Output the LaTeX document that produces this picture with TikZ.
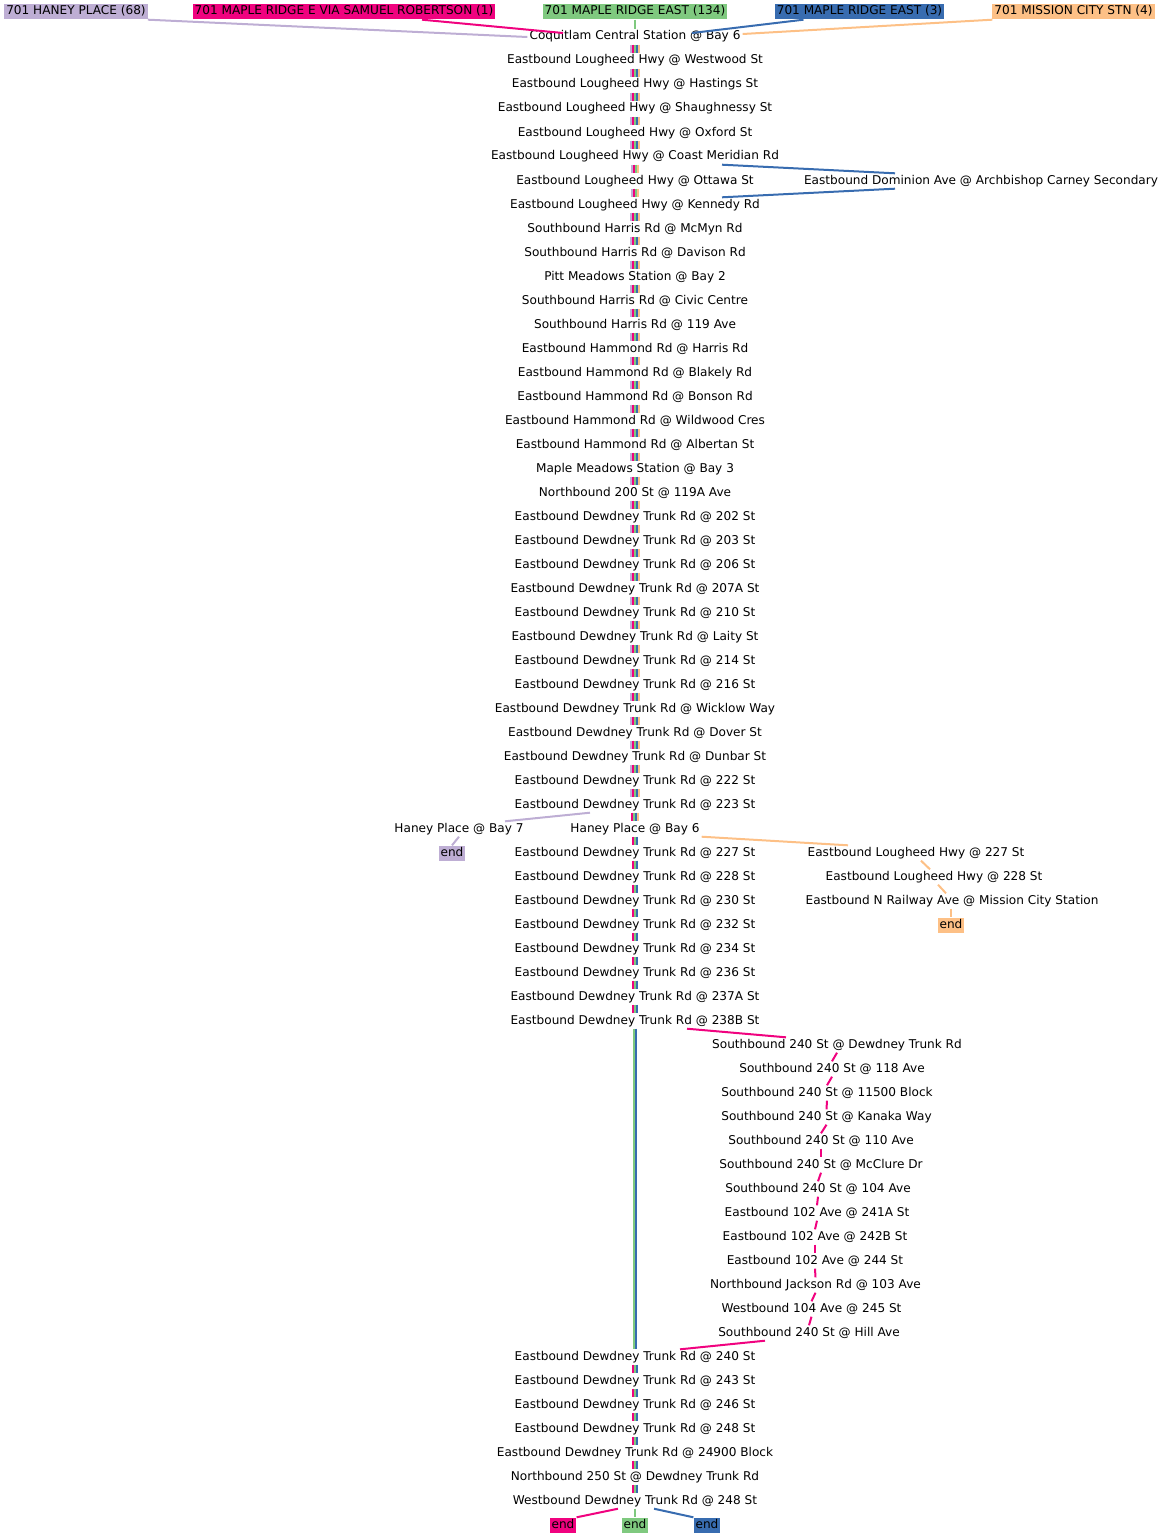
\documentclass[tikz,border=0pt]{standalone}
\usepackage{fontspec}
\setmainfont{DejaVu Sans}
\definecolor{cP}{HTML}{BEAED4}
\definecolor{cK}{HTML}{F0027F}
\definecolor{cG}{HTML}{7FC97F}
\definecolor{cB}{HTML}{386CB0}
\definecolor{cO}{HTML}{FDC086}
\newcommand\trunkseg[4]{%
  \foreach \c [count=\k] in {#4} {%
    \draw[line width=2pt,draw=\c] ([xshift={(\k-(#3+1)/2)*2pt}]m#1.south) -- ([xshift={(\k-(#3+1)/2)*2pt}]m#2.north);}%
}
\begin{document}
\begin{tikzpicture}[x=1pt,y=-1pt,
  lbl/.style={font=\fontsize{12.1}{14}\selectfont, inner xsep=2pt, inner ysep=1.5pt, text height=9pt, text depth=3pt},
  hdr/.style={lbl, fill=#1},
  endbox/.style={lbl, fill=#1},
  conn/.style={line width=2pt, draw=#1}]
\useasboundingbox (0,0) rectangle (1164,1536);

% headers
\node[hdr=cP] (hp) at (76,12) {701 HANEY PLACE (68)};
\node[hdr=cK] (hk) at (344,12) {701 MAPLE RIDGE E VIA SAMUEL ROBERTSON (1)};
\node[hdr=cG] (hg) at (635,12) {701 MAPLE RIDGE EAST (134)};
\node[hdr=cB] (hb) at (859.5,12) {701 MAPLE RIDGE EAST (3)};
\node[hdr=cO] (ho) at (1073.5,12) {701 MISSION CITY STN (4)};

% main trunk stops
\foreach \i/\t in {
1/Coquitlam Central Station @ Bay 6,
2/Eastbound Lougheed Hwy @ Westwood St,
3/Eastbound Lougheed Hwy @ Hastings St,
4/Eastbound Lougheed Hwy @ Shaughnessy St,
5/Eastbound Lougheed Hwy @ Oxford St,
6/Eastbound Lougheed Hwy @ Coast Meridian Rd,
7/Eastbound Lougheed Hwy @ Ottawa St,
8/Eastbound Lougheed Hwy @ Kennedy Rd,
9/Southbound Harris Rd @ McMyn Rd,
10/Southbound Harris Rd @ Davison Rd,
11/Pitt Meadows Station @ Bay 2,
12/Southbound Harris Rd @ Civic Centre,
13/Southbound Harris Rd @ 119 Ave,
14/Eastbound Hammond Rd @ Harris Rd,
15/Eastbound Hammond Rd @ Blakely Rd,
16/Eastbound Hammond Rd @ Bonson Rd,
17/Eastbound Hammond Rd @ Wildwood Cres,
18/Eastbound Hammond Rd @ Albertan St,
19/Maple Meadows Station @ Bay 3,
20/Northbound 200 St @ 119A Ave,
21/Eastbound Dewdney Trunk Rd @ 202 St,
22/Eastbound Dewdney Trunk Rd @ 203 St,
23/Eastbound Dewdney Trunk Rd @ 206 St,
24/Eastbound Dewdney Trunk Rd @ 207A St,
25/Eastbound Dewdney Trunk Rd @ 210 St,
26/Eastbound Dewdney Trunk Rd @ Laity St,
27/Eastbound Dewdney Trunk Rd @ 214 St,
28/Eastbound Dewdney Trunk Rd @ 216 St,
29/Eastbound Dewdney Trunk Rd @ Wicklow Way,
30/Eastbound Dewdney Trunk Rd @ Dover St,
31/Eastbound Dewdney Trunk Rd @ Dunbar St,
32/Eastbound Dewdney Trunk Rd @ 222 St,
33/Eastbound Dewdney Trunk Rd @ 223 St,
34/Haney Place @ Bay 6,
35/Eastbound Dewdney Trunk Rd @ 227 St,
36/Eastbound Dewdney Trunk Rd @ 228 St,
37/Eastbound Dewdney Trunk Rd @ 230 St,
38/Eastbound Dewdney Trunk Rd @ 232 St,
39/Eastbound Dewdney Trunk Rd @ 234 St,
40/Eastbound Dewdney Trunk Rd @ 236 St,
41/Eastbound Dewdney Trunk Rd @ 237A St,
42/Eastbound Dewdney Trunk Rd @ 238B St,
56/Eastbound Dewdney Trunk Rd @ 240 St,
57/Eastbound Dewdney Trunk Rd @ 243 St,
58/Eastbound Dewdney Trunk Rd @ 246 St,
59/Eastbound Dewdney Trunk Rd @ 248 St,
60/Eastbound Dewdney Trunk Rd @ 24900 Block,
61/Northbound 250 St @ Dewdney Trunk Rd,
62/Westbound Dewdney Trunk Rd @ 248 St}
  \node[lbl] (m\i) at (635,{13+24*\i}) {\t};

% side stops
\node[lbl] (dom) at (981,181) {Eastbound Dominion Ave @ Archbishop Carney Secondary};
\node[lbl] (b7) at (459,829) {Haney Place @ Bay 7};
\node[endbox=cP] (e1) at (452,853) {end};
\node[lbl] (l227) at (916,853) {Eastbound Lougheed Hwy @ 227 St};
\node[lbl] (l228) at (934,877) {Eastbound Lougheed Hwy @ 228 St};
\node[lbl] (mis) at (952,901) {Eastbound N Railway Ave @ Mission City Station};
\node[endbox=cO] (e2) at (951,925) {end};

\foreach \j/\x/\t in {
0/837/Southbound 240 St @ Dewdney Trunk Rd,
1/832/Southbound 240 St @ 118 Ave,
2/827/Southbound 240 St @ 11500 Block,
3/826.5/Southbound 240 St @ Kanaka Way,
4/821/Southbound 240 St @ 110 Ave,
5/821/Southbound 240 St @ McClure Dr,
6/818/Southbound 240 St @ 104 Ave,
7/817/Eastbound 102 Ave @ 241A St,
8/815/Eastbound 102 Ave @ 242B St,
9/815/Eastbound 102 Ave @ 244 St,
10/815.5/Northbound Jackson Rd @ 103 Ave,
11/811.5/Westbound 104 Ave @ 245 St,
12/809/Southbound 240 St @ Hill Ave}
  \node[lbl] (s\j) at (\x,{13+24*(43+\j)}) {\t};

\node[endbox=cK] (e3) at (563,1525) {end};
\node[endbox=cG] (e4) at (635,1525) {end};
\node[endbox=cB] (e5) at (707,1525) {end};

% trunk stripes
\foreach \a in {1,...,5} {\pgfmathtruncatemacro\nxt{\a+1}\trunkseg{\a}{\nxt}{5}{cP,cK,cG,cB,cO}}
\trunkseg{6}{7}{4}{cP,cK,cG,cO}
\trunkseg{7}{8}{4}{cP,cK,cG,cO}
\foreach \a in {8,...,32} {\pgfmathtruncatemacro\nxt{\a+1}\trunkseg{\a}{\nxt}{5}{cP,cK,cG,cB,cO}}
\trunkseg{33}{34}{4}{cK,cG,cB,cO}
\foreach \a in {34,...,41} {\pgfmathtruncatemacro\nxt{\a+1}\trunkseg{\a}{\nxt}{3}{cK,cG,cB}}
\trunkseg{42}{56}{2}{cG,cB}
\foreach \a in {56,...,61} {\pgfmathtruncatemacro\nxt{\a+1}\trunkseg{\a}{\nxt}{3}{cK,cG,cB}}

% header connectors
\draw[conn=cP] (hp.south east) -- (m1.west);
\draw[conn=cK] ([xshift=78pt]hk.south) -- ([xshift=-72pt,yshift=4pt]m1.center);
\draw[conn=cG] (hg.south) -- (m1.north);
\draw[conn=cB] ([xshift=-56pt]hb.south) -- ([xshift=57pt,yshift=4pt]m1.center);
\draw[conn=cO] (ho.south west) -- ([yshift=3pt]m1.east);

% Dominion detour
\draw[conn=cB] ([xshift=87pt]m6.south) -- ([xshift=-86pt]dom.north);
\draw[conn=cB] ([xshift=-86pt]dom.south) -- ([xshift=87pt]m8.north);

% Haney Place
\draw[conn=cP] ([xshift=-45pt]m33.south) -- ([xshift=46pt]b7.north);
\draw[conn=cP] (b7.south) -- (e1.north);
\draw[conn=cO] (m34.south east) -- ([xshift=-68pt]l227.north);
\draw[conn=cO] ([xshift=5pt]l227.south) -- ([xshift=-4pt]l228.north);
\draw[conn=cO] ([xshift=4pt]l228.south) -- ([xshift=-6pt]mis.north);
\draw[conn=cO] ([xshift=-1pt]mis.south) -- (e2.north);

% 240 St branch
\draw[conn=cK] ([xshift=52pt]m42.south) -- ([xshift=-51pt]s0.north);
\foreach \j in {0,...,11} {\pgfmathtruncatemacro\jj{\j+1}\draw[conn=cK] (s\j.south) -- (s\jj.north);}
\draw[conn=cK] ([xshift=-44pt]s12.south) -- ([xshift=45pt]m56.north);

% ends
\draw[conn=cK] ([xshift=-17pt]m62.south) -- (e3.north east);
\draw[conn=cG] (m62.south) -- (e4.north);
\draw[conn=cB] ([xshift=19pt]m62.south) -- (e5.north west);
\end{tikzpicture}
\end{document}
